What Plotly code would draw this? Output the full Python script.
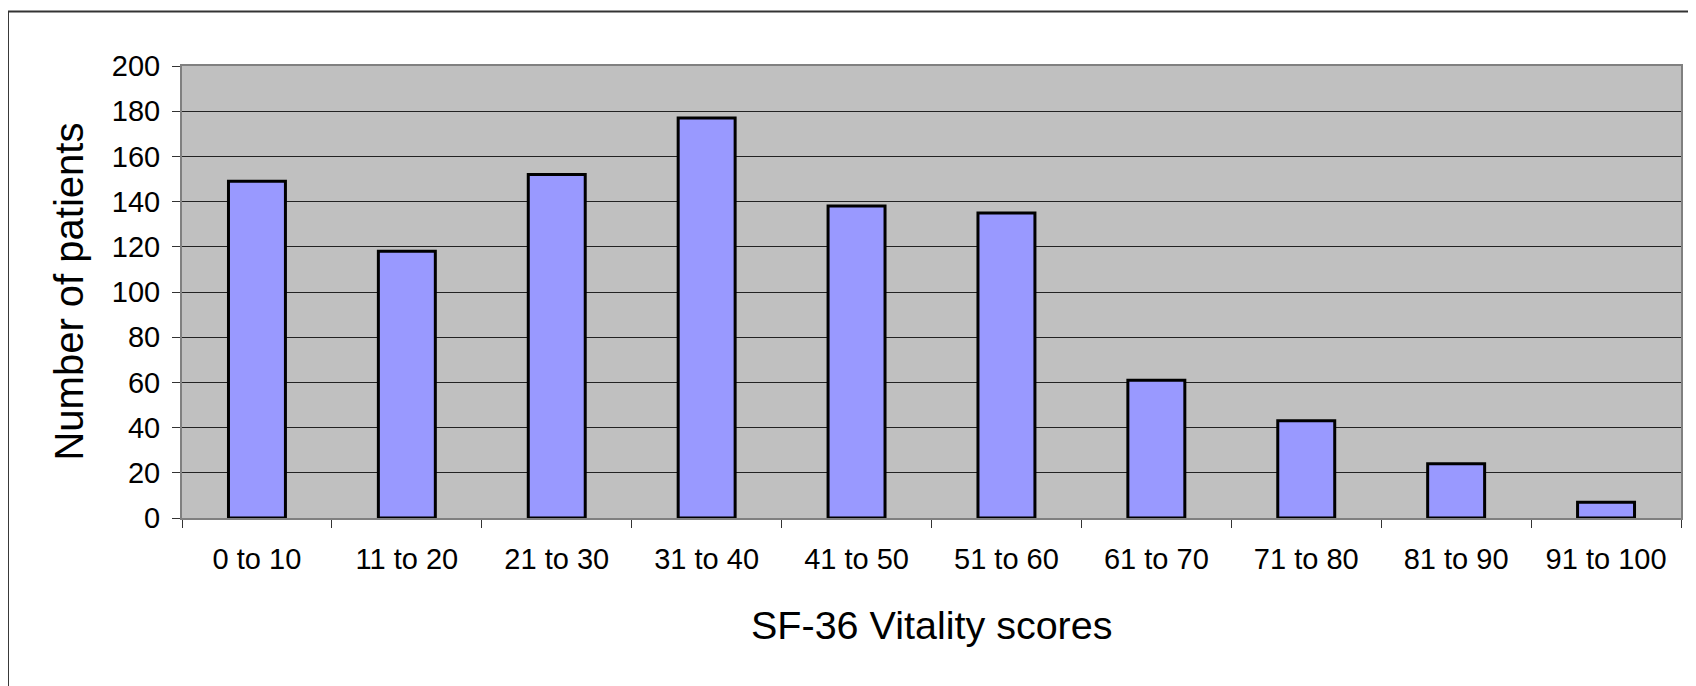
import plotly.graph_objects as go

categories = ["0 to 10", "11 to 20", "21 to 30", "31 to 40", "41 to 50",
              "51 to 60", "61 to 70", "71 to 80", "81 to 90", "91 to 100"]
patients = [149, 118, 152, 177, 138, 135, 61, 43, 24, 7]
y_ticks = list(range(0, 201, 20))

x_title = "SF-36 Vitality scores"
y_title = "Number of patients"

FONT = "Liberation Sans, Arial, sans-serif"

fig = go.Figure()
fig.add_trace(go.Bar(
    x=categories, y=patients,
    marker=dict(color="#9999FF", line=dict(color="#000000", width=3)),
    hoverinfo="x+y",
))

fig.update_layout(
    width=1688, height=678,
    margin=dict(l=174, r=15, t=58, b=168),
    paper_bgcolor="#FFFFFF",
    plot_bgcolor="#C0C0C0",
    bargap=0.62,
    showlegend=False,
    font=dict(family=FONT, color="#000000", size=29),
    xaxis=dict(
        type="category",
        tickson="boundaries",
        ticks="outside", ticklen=8, tickwidth=1, tickcolor="#333333",
        showline=True, linecolor="#808080", linewidth=2, mirror=True,
        showgrid=False, zeroline=False,
        tickfont=dict(family=FONT, size=29, color="#000000"),
        ticklabelstandoff=14,
    ),
    yaxis=dict(
        range=[0, 200], tickvals=y_ticks,
        ticks="outside", ticklen=8, tickwidth=1, tickcolor="#333333",
        showline=True, linecolor="#808080", linewidth=2, mirror=True,
        showgrid=True, gridcolor="#222222", gridwidth=1,
        zeroline=False,
        tickfont=dict(family=FONT, size=29, color="#000000"),
        ticklabelstandoff=6,
    ),
    annotations=[
        dict(text=x_title, xref="paper", yref="paper", x=0.5, y=-0.2367,
             xanchor="center", yanchor="middle", showarrow=False,
             font=dict(family=FONT, size=39.5, color="#000000")),
        dict(text=y_title, xref="paper", yref="paper", x=-0.0757, y=0.5,
             xanchor="center", yanchor="middle", textangle=-90, showarrow=False,
             font=dict(family=FONT, size=40, color="#000000")),
    ],
    shapes=[
        dict(type="rect", xref="paper", yref="paper",
             x0=-0.1161, x1=1.05, y0=-0.45, y1=1.1206,
             line=dict(color="#333333", width=2), fillcolor="rgba(0,0,0,0)",
             layer="below"),
    ],
)

fig.write_html("out.html")
